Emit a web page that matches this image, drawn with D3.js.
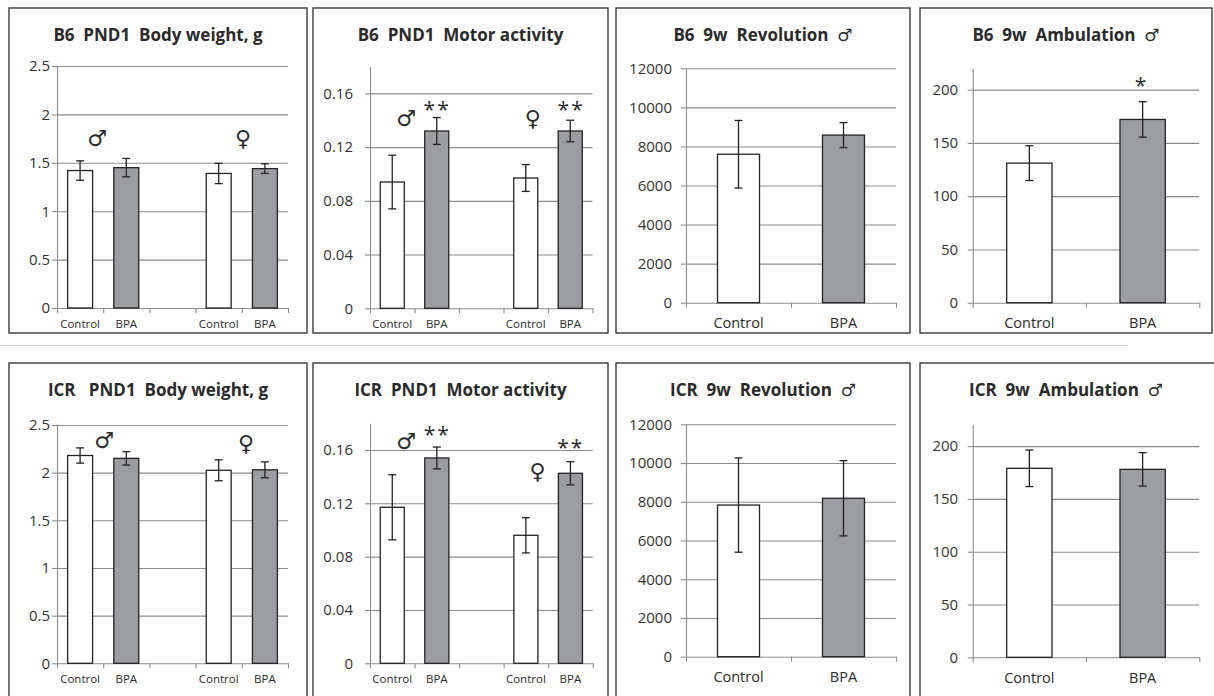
<!DOCTYPE html>
<html>
<head>
<meta charset="utf-8">
<script src="https://cdn.jsdelivr.net/npm/d3@7"></script>
<style>
  body { margin: 0; background: #fff; }
  text { font-family: "Open Sans", "DejaVu Sans", sans-serif; fill: #2a2a2a; }
  .title { font-weight: bold; font-size: 17px; white-space: pre; }
  .tick text { font-size: 15px; fill: #333; }
  .mark { font-family: "DejaVu Sans", sans-serif; font-size: 22px; }
  .star { font-family: "Open Sans", sans-serif; font-size: 21px; letter-spacing: 2px; }
</style>
</head>
<body>
<div id="chart"></div>
<script>
// ---- data ----
const pndGroups = ["M-Control", "M-BPA", "gap", "F-Control", "F-BPA"];
const pndLabels = ["Control", "BPA", "", "Control", "BPA"];
const adultGroups = ["Control", "BPA"];
const adultLabels = ["Control", "BPA"];

const bwTicks = [0, 0.5, 1, 1.5, 2, 2.5];
const motorTicks = [0, 0.04, 0.08, 0.12, 0.16];
const revTicks = [0, 2000, 4000, 6000, 8000, 10000, 12000];
const ambTicks = [0, 50, 100, 150, 200];

const b6BodyWeight = [1.42, 1.45, null, 1.39, 1.44];
const b6BodyWeightErr = [0.10, 0.095, null, 0.105, 0.05];
const b6Motor = [0.094, 0.132, null, 0.097, 0.132];
const b6MotorErr = [0.020, 0.010, null, 0.010, 0.008];
const b6Revolution = [7600, 8580];
const b6RevolutionErr = [1730, 640];
const b6Ambulation = [131, 172];
const b6AmbulationErr = [16.3, 16.6];

const icrBodyWeight = [2.18, 2.15, null, 2.025, 2.03];
const icrBodyWeightErr = [0.08, 0.07, null, 0.11, 0.083];
const icrMotor = [0.117, 0.154, null, 0.096, 0.1425];
const icrMotorErr = [0.0244, 0.0082, null, 0.0132, 0.0087];
const icrRevolution = [7830, 8180];
const icrRevolutionErr = [2435, 1944];
const icrAmbulation = [179, 178];
const icrAmbulationErr = [17.3, 15.8];

const width = 1214, height = 696;

const svg = d3.select("#chart")
    .append("svg")
    .attr("width", width)
    .attr("height", height);

// faint scan line between the rows
svg.append("line")
    .attr("x1", 0).attr("x2", 1128)
    .attr("y1", 345.5).attr("y2", 345.5)
    .attr("stroke", "#d0d0d0").attr("stroke-width", 1);

const pnd = { groups: pndGroups, labels: pndLabels, gap: 0.46, catFont: 11.5, catDy: 20 };
const adult = { groups: adultGroups, labels: adultLabels, gap: 0.6, catFont: 14.5, catDy: 25.5 };

const panels = [
  Object.assign({}, pnd, { title: "B6  PND1  Body weight, g", means: b6BodyWeight, errs: b6BodyWeightErr,
    ticks: bwTicks, yMax: 2.5, box: [9, 8, 298, 325], x0: 57, x1: 288, yTop: 66, y0: 308, pad: 2,
    marks: [{ t: "♂", at: 0.87, v: 1.76 }, { t: "♀", at: 4.03, v: 1.76 }] }),
  Object.assign({}, pnd, { title: "B6  PND1  Motor activity", means: b6Motor, errs: b6MotorErr,
    ticks: motorTicks, yMax: 0.18, box: [313, 8, 295, 325], x0: 370, x1: 592.5, yTop: 66.5, y0: 308.3, pad: 12,
    marks: [{ t: "♂", at: 0.81, v: 0.1416 }, { t: "**", at: 1.51, v: 0.1505 },
            { t: "♀", at: 3.66, v: 0.1416 }, { t: "**", at: 4.52, v: 0.1505 }] }),
  Object.assign({}, adult, { title: "B6  9w  Revolution  ♂", means: b6Revolution, errs: b6RevolutionErr,
    ticks: revTicks, yMax: 12000, box: [616, 8, 294, 325], x0: 686, x1: 896, yTop: 68.3, y0: 302.7, pad: 9,
    marks: [] }),
  Object.assign({}, adult, { title: "B6  9w  Ambulation  ♂", means: b6Ambulation, errs: b6AmbulationErr,
    ticks: ambTicks, yMax: 220, box: [920, 8, 292, 325], x0: 972.7, x1: 1199.3, yTop: 68.3, y0: 302.7, pad: 9.5,
    marks: [{ t: "*", at: 1.49, v: 207 }] }),

  Object.assign({}, pnd, { title: "ICR   PND1  Body weight, g", means: icrBodyWeight, errs: icrBodyWeightErr,
    ticks: bwTicks, yMax: 2.5, box: [9, 363, 298, 360], x0: 57, x1: 288, yTop: 425, y0: 663.3, pad: 2,
    marks: [{ t: "♂", at: 1.02, v: 2.34 }, { t: "♀", at: 4.09, v: 2.31 }] }),
  Object.assign({}, pnd, { title: "ICR  PND1  Motor activity", means: icrMotor, errs: icrMotorErr,
    ticks: motorTicks, yMax: 0.18, box: [313, 363, 295, 360], x0: 370, x1: 592.7, yTop: 423.3, y0: 663.3, pad: 12,
    marks: [{ t: "♂", at: 0.81, v: 0.167 }, { t: "**", at: 1.51, v: 0.1744 },
            { t: "♀", at: 3.76, v: 0.1445 }, { t: "**", at: 4.51, v: 0.1645 }] }),
  Object.assign({}, adult, { title: "ICR  9w  Revolution  ♂", means: icrRevolution, errs: icrRevolutionErr,
    ticks: revTicks, yMax: 12000, box: [616, 363, 294, 360], x0: 686, x1: 896, yTop: 424.3, y0: 656.7, pad: 9,
    marks: [] }),
  Object.assign({}, adult, { title: "ICR  9w  Ambulation  ♂", means: icrAmbulation, errs: icrAmbulationErr,
    ticks: ambTicks, yMax: 220, box: [920, 363, 300, 360], x0: 972.7, x1: 1199.3, yTop: 425, y0: 657.3, pad: 9.5,
    marks: [] })
];

const drawPanel = p => {
    const g = svg.append("g");

    g.append("rect")
        .attr("x", p.box[0]).attr("y", p.box[1])
        .attr("width", p.box[2]).attr("height", p.box[3])
        .attr("fill", "none")
        .attr("stroke", "#3a3a3a")
        .attr("stroke-width", 1.4);

    g.append("text")
        .attr("class", "title")
        .attr("x", p.box[0] + p.box[2] / 2 + (p.box[1] > 300 && p.box[0] > 900 ? -4 : 0))
        .attr("y", p.box[1] + 33)
        .attr("text-anchor", "middle")
        .text(p.title);

    const y = d3.scaleLinear().domain([0, p.yMax]).range([p.y0, p.yTop]);
    const x = d3.scaleBand()
        .domain(p.groups)
        .range([p.x0, p.x1])
        .paddingInner(p.gap)
        .paddingOuter(p.gap / 2);
    const xu = d3.scaleLinear().domain([0, p.groups.length]).range([p.x0, p.x1]);

    // gridlines
    const grid = g.append("g")
        .attr("transform", "translate(" + p.x0 + ",0)")
        .call(d3.axisLeft(y).tickValues(p.ticks.filter(t => t > 0)).tickSize(-(p.x1 - p.x0)).tickFormat(""));
    grid.select(".domain").remove();
    grid.selectAll("line").attr("stroke", "#8c8c8c").attr("stroke-width", 1.1);

    // y axis
    const yaxisG = g.append("g")
        .attr("transform", "translate(" + p.x0 + ",0)")
        .call(d3.axisLeft(y).tickValues(p.ticks).tickSize(5).tickSizeOuter(0).tickPadding(p.pad).tickFormat(d => String(d)));
    yaxisG.selectAll(".domain, .tick line").attr("stroke", "#8c8c8c").attr("stroke-width", 1.1);

    // x axis with category boundary ticks
    const xaxisG = g.append("g")
        .attr("transform", "translate(0," + p.y0 + ")")
        .call(d3.axisBottom(xu).tickValues(d3.range(p.groups.length + 1)).tickSize(5).tickSizeOuter(0).tickFormat(""));
    xaxisG.selectAll(".domain, .tick line").attr("stroke", "#8c8c8c").attr("stroke-width", 1.1);

    const rows = p.groups.map((k, i) => ({ k: k, label: p.labels[i], m: p.means[i], e: p.errs[i] }));
    const data = rows.filter(d => d.m != null);

    g.selectAll(".bar")
        .data(data)
        .enter()
        .append("rect")
        .attr("x", d => x(d.k))
        .attr("width", x.bandwidth())
        .attr("y", d => y(d.m))
        .attr("height", d => y(0) - y(d.m))
        .attr("fill", d => d.label === "BPA" ? "#9c9da1" : "#ffffff")
        .attr("stroke", "#232323")
        .attr("stroke-width", 1.3);

    const cx = d => x(d.k) + x.bandwidth() / 2;
    const err = g.selectAll(".err").data(data).enter().append("g");
    err.append("line")
        .attr("x1", cx).attr("x2", cx)
        .attr("y1", d => y(d.m - d.e)).attr("y2", d => y(d.m + d.e));
    err.append("line")
        .attr("x1", d => cx(d) - 4).attr("x2", d => cx(d) + 4)
        .attr("y1", d => y(d.m + d.e)).attr("y2", d => y(d.m + d.e));
    err.append("line")
        .attr("x1", d => cx(d) - 4).attr("x2", d => cx(d) + 4)
        .attr("y1", d => y(d.m - d.e)).attr("y2", d => y(d.m - d.e));
    err.selectAll("line").attr("stroke", "#232323").attr("stroke-width", 1.3);

    g.selectAll(".cat")
        .data(rows)
        .enter()
        .append("text")
        .attr("x", cx)
        .attr("y", p.y0 + p.catDy)
        .attr("text-anchor", "middle")
        .attr("font-size", p.catFont)
        .text(d => d.label);

    p.marks.forEach(m => {
        const isStar = m.t.indexOf("*") >= 0;
        g.append("text")
            .attr("class", isStar ? "star" : "mark")
            .attr("x", xu(m.at))
            .attr("y", y(m.v) + (isStar ? 11 : 8))
            .attr("text-anchor", "middle")
            .text(m.t);
    });
};

panels.forEach(drawPanel);
</script>
</body>
</html>
